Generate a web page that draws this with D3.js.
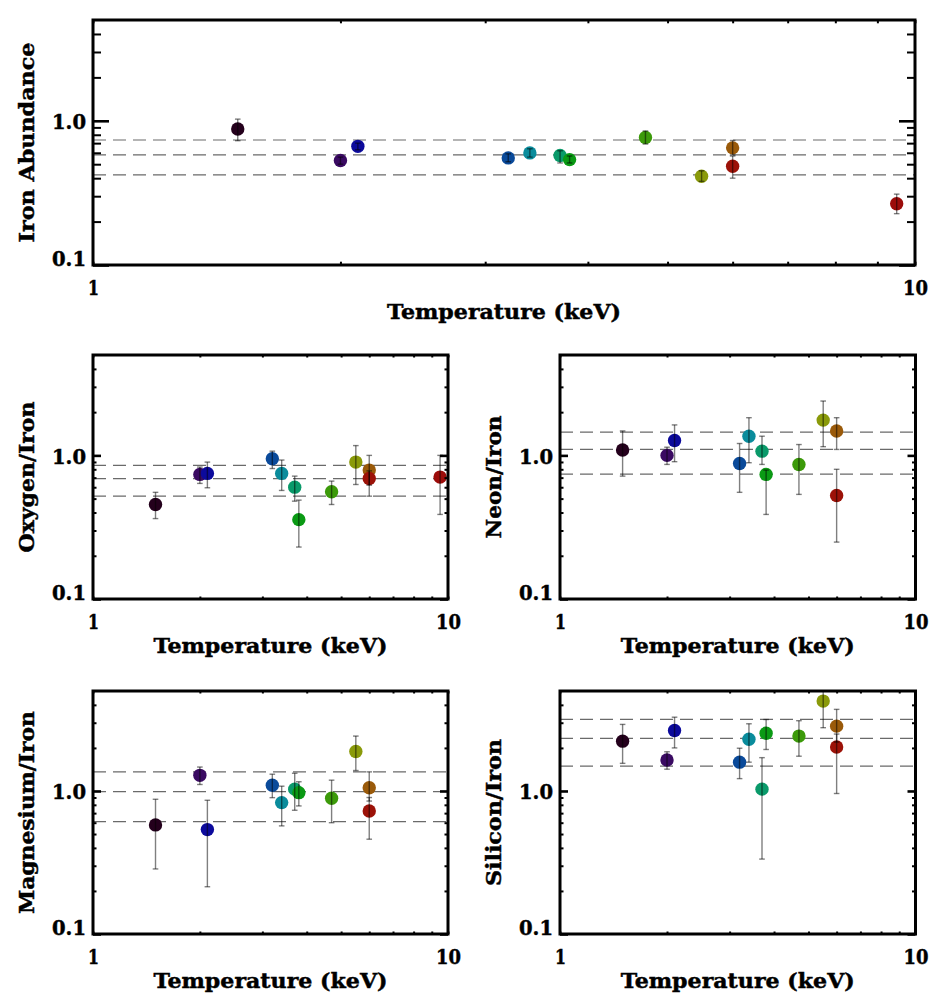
<!DOCTYPE html>
<html>
<head>
<meta charset="utf-8">
<script src="https://cdn.jsdelivr.net/npm/d3@7"></script>
<style>
  html, body { margin: 0; padding: 0; background: #fff; }
  svg { display: block; }
  text { font-family: "DejaVu Serif", "Liberation Serif", serif; font-weight: bold; fill: #000;
         stroke: #000; stroke-width: 0.45px; }
</style>
</head>
<body>
<svg id="chart" width="934" height="1006"></svg>
<script>
// ---------------- DATA ----------------
const temps = [1.5, 2.0, 2.1, 3.2, 3.4, 3.7, 3.8, 4.7, 5.5, 6.0, 6.0, 9.5];
const pointColors = ["#24001c", "#3a0a62", "#0c0a9c", "#0a4a9a", "#0a8c9c", "#0a9a6a",
                     "#0a9a14", "#3c9a0a", "#8a9a0a", "#9a5a0a", "#9c1208", "#9c0c0a"];

const ironVal = [0.877, 0.530, 0.665, 0.553, 0.599, 0.574, 0.538, 0.767, 0.413, 0.649, 0.484, 0.266];
const ironLo  = [0.728, 0.500, 0.630, 0.520, 0.560, 0.510, 0.510, 0.690, 0.380, 0.580, 0.400, 0.227];
const ironHi  = [1.027, 0.560, 0.700, 0.590, 0.640, 0.620, 0.570, 0.850, 0.450, 0.730, 0.570, 0.310];
const ironRef = [0.736, 0.580, 0.422];

const oxygenVal = [0.455, 0.737, 0.749, 0.948, 0.749, 0.601, 0.357, 0.558, 0.898, 0.790, 0.691, 0.706];
const oxygenLo  = [0.363, 0.638, 0.595, 0.810, 0.570, 0.480, 0.230, 0.455, 0.627, 0.520, 0.620, 0.388];
const oxygenHi  = [0.553, 0.829, 0.898, 1.070, 0.928, 0.717, 0.488, 0.662, 1.170, 1.000, 0.780, 1.000];
const oxygenRef = [0.851, 0.688, 0.520];

const neonVal = [1.09, 1.00, 1.27, 0.879, 1.36, 1.07, 0.737, 0.865, 1.76, 1.48, 0.526, null];
const neonLo  = [0.717, 0.865, 0.904, 0.553, 0.889, 0.865, 0.388, 0.535, 1.15, 1.10, 0.249, null];
const neonHi  = [1.48, 1.14, 1.63, 1.21, 1.83, 1.36, 0.79, 1.19, 2.39, 1.83, 0.80, null];
const neonRef = [1.45, 1.10, 0.74];

const magnesiumVal = [0.579, 1.286, 0.537, 1.096, 0.829, 1.03, 0.973, 0.889, 1.89, 1.054, 0.725, null];
const magnesiumLo  = [0.285, 1.11, 0.214, 0.898, 0.57, 0.733, 0.786, 0.60, 1.39, 0.85, 0.46, null];
const magnesiumHi  = [0.875, 1.47, 0.861, 1.31, 1.08, 1.33, 1.16, 1.19, 2.42, 1.36, 0.90, null];
const magnesiumRef = [1.36, 0.99, 0.61];

const siliconVal = [2.23, 1.645, 2.65, 1.59, 2.30, 1.03, 2.53, 2.42, 4.25, 2.84, 2.03, null];
const siliconLo  = [1.56, 1.42, 2.00, 1.22, 1.59, 0.334, 1.95, 1.75, 2.77, 2.20, 0.96, null];
const siliconHi  = [2.92, 1.88, 3.28, 1.99, 2.95, 1.71, 3.16, 3.10, 5.00, 3.72, 2.50, null];
const siliconRef = [3.17, 2.33, 1.49];

const xDomain = [1, 10];
const yDomain = [0.1, 5];
const xTickValues = [1, 2, 3, 4, 5, 6, 7, 8, 9, 10];
const xTickLabels = ["1", "", "", "", "", "", "", "", "", "10"];
const yTickValues = [0.1, 0.2, 0.3, 0.4, 0.5, 0.6, 0.7, 0.8, 0.9, 1, 2, 3, 4];
const yTickLabels = ["0.1", "", "", "", "", "", "", "", "", "1.0", "", "", ""];
const xTitle = "Temperature (keV)";

// ---------------- LAYOUT ----------------
const panels = [
  { title: "Iron Abundance", tw: 200, val: ironVal, lo: ironLo, hi: ironHi, ref: ironRef,
    x0: 93, x1: 915, y0: 20, y1: 265, yMaj: 16, yMin: 8, xMin: 3.3 },
  { title: "Oxygen/Iron", tw: 151, val: oxygenVal, lo: oxygenLo, hi: oxygenHi, ref: oxygenRef,
    x0: 93, x1: 448, y0: 355, y1: 599, yMaj: 8, yMin: 3.5, xMin: 2.5 },
  { title: "Neon/Iron", tw: 123, val: neonVal, lo: neonLo, hi: neonHi, ref: neonRef,
    x0: 560, x1: 915.5, y0: 355, y1: 599, yMaj: 8, yMin: 3.5, xMin: 2.5 },
  { title: "Magnesium/Iron", tw: 203, val: magnesiumVal, lo: magnesiumLo, hi: magnesiumHi, ref: magnesiumRef,
    x0: 93, x1: 448, y0: 691, y1: 934, yMaj: 8, yMin: 3.5, xMin: 2.5 },
  { title: "Silicon/Iron", tw: 147, val: siliconVal, lo: siliconLo, hi: siliconHi, ref: siliconRef,
    x0: 560, x1: 915.5, y0: 691, y1: 934, yMaj: 8, yMin: 3.5, xMin: 2.5 }
];

const svg = d3.select("#chart");
const FS = 20;

panels.forEach(p => {
  const x = d3.scaleLog().domain(xDomain).range([p.x0, p.x1]);
  const y = d3.scaleLog().domain(yDomain).range([p.y1, p.y0]);
  const g = svg.append("g");

  // reference dashed lines
  g.selectAll("line.ref").data(p.ref).join("line")
    .attr("class", "ref")
    .attr("x1", p.x0).attr("x2", p.x1)
    .attr("y1", d => y(d)).attr("y2", d => y(d))
    .attr("stroke", "#6a6a6a").attr("stroke-width", 1.2)
    .attr("stroke-dasharray", "13,7");

  const pts = temps.map((t, i) => ({ t, v: p.val[i], lo: p.lo[i], hi: p.hi[i], c: pointColors[i] }))
                   .filter(d => d.v != null);

  // points
  g.selectAll("circle.pt").data(pts).join("circle")
    .attr("class", "pt")
    .attr("cx", d => x(d.t)).attr("cy", d => y(d.v))
    .attr("r", 6.7).attr("fill", d => d.c);

  // error bars
  const eb = g.selectAll("g.eb").data(pts).join("g").attr("class", "eb")
    .attr("stroke", "rgba(0,0,0,0.5)").attr("stroke-width", 1.4);
  eb.append("line")
    .attr("x1", d => x(d.t)).attr("x2", d => x(d.t))
    .attr("y1", d => y(d.lo)).attr("y2", d => y(d.hi));
  eb.append("line")
    .attr("x1", d => x(d.t) - 2.8).attr("x2", d => x(d.t) + 2.8)
    .attr("y1", d => y(d.lo)).attr("y2", d => y(d.lo));
  eb.append("line")
    .attr("x1", d => x(d.t) - 2.8).attr("x2", d => x(d.t) + 2.8)
    .attr("y1", d => y(d.hi)).attr("y2", d => y(d.hi));

  const isMajorY = v => Math.abs(Math.log10(v) - Math.round(Math.log10(v))) < 1e-9;

  // y axes (left with labels, right ticks only)
  const yLeft = g.append("g").attr("transform", `translate(${p.x0},0)`)
    .call(d3.axisLeft(y).tickValues(yTickValues)
      .tickFormat((d, i) => yTickLabels[i]).tickSizeOuter(0));
  yLeft.select(".domain").remove();
  yLeft.selectAll(".tick line")
    .attr("x2", d => isMajorY(d) ? p.yMaj : p.yMin)
    .attr("stroke", "#000").attr("stroke-width", d => isMajorY(d) ? 2.6 : 2);
  yLeft.selectAll(".tick text")
    .attr("x", -7).attr("dy", null)
    .attr("y", d => d === 1 ? 8 : 0)
    .attr("font-size", FS).attr("font-family", null).attr("fill", "#000")
    .attr("textLength", function () { return this.textContent ? 34 : null; })
    .attr("lengthAdjust", "spacingAndGlyphs")
    .style("font-family", "'DejaVu Serif', serif").style("font-weight", "bold");

  const yRight = g.append("g").attr("transform", `translate(${p.x1},0)`)
    .call(d3.axisRight(y).tickValues(yTickValues).tickFormat("").tickSizeOuter(0));
  yRight.select(".domain").remove();
  yRight.selectAll(".tick line")
    .attr("x2", d => isMajorY(d) ? -p.yMaj : -p.yMin)
    .attr("stroke", "#000").attr("stroke-width", d => isMajorY(d) ? 2.6 : 2);

  // x axes
  const xBot = g.append("g").attr("transform", `translate(0,${p.y1})`)
    .call(d3.axisBottom(x).tickValues(xTickValues)
      .tickFormat((d, i) => xTickLabels[i]).tickSizeOuter(0));
  xBot.select(".domain").remove();
  xBot.selectAll(".tick line")
    .attr("y2", -p.xMin).attr("stroke", "#000").attr("stroke-width", 2);
  xBot.selectAll(".tick text")
    .attr("y", 30).attr("dy", null)
    .attr("font-size", FS).attr("font-family", null).attr("fill", "#000")
    .attr("textLength", function () { return this.textContent === "10" ? 25 : (this.textContent ? 11 : null); })
    .attr("lengthAdjust", "spacingAndGlyphs")
    .style("font-family", "'DejaVu Serif', serif").style("font-weight", "bold");

  const xTop = g.append("g").attr("transform", `translate(0,${p.y0})`)
    .call(d3.axisTop(x).tickValues(xTickValues).tickFormat("").tickSizeOuter(0));
  xTop.select(".domain").remove();
  xTop.selectAll(".tick line")
    .attr("y2", p.xMin).attr("stroke", "#000").attr("stroke-width", 2);

  // frame
  g.append("rect")
    .attr("x", p.x0).attr("y", p.y0)
    .attr("width", p.x1 - p.x0).attr("height", p.y1 - p.y0)
    .attr("fill", "none").attr("stroke", "#000").attr("stroke-width", 3);

  // titles
  g.append("text")
    .attr("x", (p.x0 + p.x1) / 2).attr("y", p.y1 + 54)
    .attr("text-anchor", "middle").attr("font-size", FS)
    .attr("textLength", 234).attr("lengthAdjust", "spacingAndGlyphs")
    .text(xTitle);

  g.append("text")
    .attr("transform", `translate(${p.x0 - 59},${(p.y0 + p.y1) / 2}) rotate(-90)`)
    .attr("text-anchor", "middle").attr("font-size", FS)
    .attr("textLength", p.tw).attr("lengthAdjust", "spacingAndGlyphs")
    .text(p.title);
});
</script>
</body>
</html>
